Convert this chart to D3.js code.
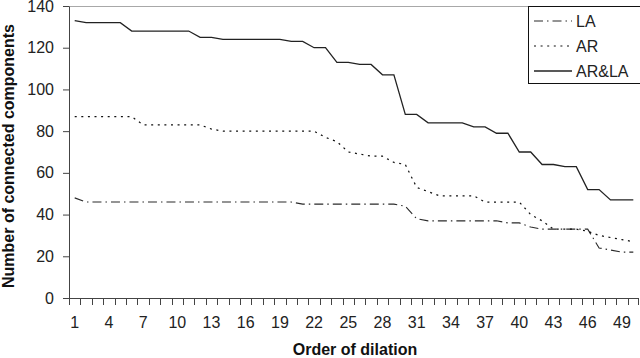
<!DOCTYPE html>
<html>
<head>
<meta charset="utf-8">
<script src="https://cdn.jsdelivr.net/npm/d3@7"></script>
<style>
  body { margin: 0; background: #fff; overflow: hidden; }
  svg { display: block; font-family: "Liberation Sans", Arial, sans-serif; }
  .axis text { font-size: 16px; fill: #222; }
  .axis-title { font-size: 16px; font-weight: 700; fill: #111; }
  .legend-label { font-size: 16px; fill: #222; }
</style>
</head>
<body>
<div id="chart"></div>
<script>
// order of dilation (x categories)
const dilation = [1,2,3,4,5,6,7,8,9,10,11,12,13,14,15,16,17,18,19,20,21,22,23,24,25,
  26,27,28,29,30,31,32,33,34,35,36,37,38,39,40,41,42,43,44,45,46,47,48,49,50];
const xTickLabels = [1,4,7,10,13,16,19,22,25,28,31,34,37,40,43,46,49];
const yTickValues = [0,20,40,60,80,100,120,140];

// number of connected components
const la = [48,46,46,46,46,46,46,46,46,46,46,46,46,46,46,46,46,46,46,46,
  45,45,45,45,45,45,45,45,45,44,38,37,37,37,37,37,37,37,36,36,
  34,33,33,33,33,33,24,23,22,22];
const ar = [87,87,87,87,87,87,83,83,83,83,83,83,81,80,80,80,80,80,80,80,
  80,80,77,75,70,69,68,68,65,64,53,51,49,49,49,49,46,46,46,46,
  40,37,33,33,33,32,30,29,28,27];
const arla = [133,132,132,132,132,128,128,128,128,128,128,125,125,124,124,124,124,124,124,123,
  123,120,120,113,113,112,112,107,107,88,88,84,84,84,84,82,82,79,79,70,
  70,64,64,63,63,52,52,47,47,47];

const seriesNames = ['LA', 'AR', 'AR&LA'];
const seriesValues = [la, ar, arla];

class LineChart {

  constructor(_config) {
    this.config = {
      parentElement: _config.parentElement,
      containerWidth: 640,
      containerHeight: 358,
      margin: { top: 6, right: 1, bottom: 60, left: 69 },
    };
    this.styles = {
      'LA': { color: '#2a2a2a', width: 1.1, dash: '9,4,1.5,4' },
      'AR': { color: '#111', width: 1.2, dash: '2,4.6' },
      'AR&LA': { color: '#222', width: 1.3, dash: null }
    };
    this.initVis();
  }

  initVis() {
    let vis = this;

    vis.width = vis.config.containerWidth - vis.config.margin.left - vis.config.margin.right;
    vis.height = vis.config.containerHeight - vis.config.margin.top - vis.config.margin.bottom;

    // scales
    vis.xScale = d3.scaleBand()
      .domain(dilation)
      .range([0, vis.width])
      .padding(0);

    vis.yScale = d3.scaleLinear()
      .domain([0, 140])
      .range([vis.height, 0]);

    vis.yAxis = d3.axisLeft(vis.yScale)
      .tickValues(yTickValues)
      .tickSize(6)
      .tickSizeOuter(0)
      .tickPadding(9);

    vis.svg = d3.select(vis.config.parentElement).append('svg')
      .attr('width', vis.config.containerWidth)
      .attr('height', vis.config.containerHeight);

    vis.chart = vis.svg.append('g')
      .attr('transform', `translate(${vis.config.margin.left}, ${vis.config.margin.top})`);

    // plot area top border
    vis.chart.append('line')
      .attr('x1', 0)
      .attr('x2', vis.width + 2)
      .attr('y1', 0.5)
      .attr('y2', 0.5)
      .attr('stroke', '#a8a8a8');

    vis.xAxisG = vis.chart.append('g')
      .attr('class', 'axis x-axis')
      .attr('transform', `translate(0,${vis.height})`);

    vis.yAxisG = vis.chart.append('g')
      .attr('class', 'axis y-axis');

    // axis titles
    vis.svg.append('text')
      .attr('class', 'axis-title')
      .attr('x', 355)
      .attr('y', 355)
      .attr('text-anchor', 'middle')
      .text('Order of dilation');

    vis.svg.append('text')
      .attr('class', 'axis-title')
      .attr('transform', 'translate(14,156) rotate(-90)')
      .attr('text-anchor', 'middle')
      .text('Number of connected components');

    vis.renderVis();
  }

  renderVis() {
    let vis = this;
    const half = vis.xScale.bandwidth() / 2;

    // y axis
    vis.yAxisG.call(vis.yAxis);
    vis.yAxisG.selectAll('line, path').attr('stroke', '#444');

    // x axis: ticks between categories, labels every third category
    vis.xAxisG.append('line')
      .attr('x1', 0)
      .attr('x2', vis.width)
      .attr('y1', 0.5)
      .attr('y2', 0.5)
      .attr('stroke', '#444');

    vis.xAxisG.selectAll('.x-tick')
      .data(dilation.concat(['end']))
      .join('line')
        .attr('class', 'x-tick')
        .attr('x1', d => d === 'end' ? vis.width - 0.5 : Math.round(vis.xScale(d)) + 0.5)
        .attr('x2', d => d === 'end' ? vis.width - 0.5 : Math.round(vis.xScale(d)) + 0.5)
        .attr('y1', 0)
        .attr('y2', 7)
        .attr('stroke', '#444');

    vis.xAxisG.selectAll('.x-label')
      .data(xTickLabels)
      .join('text')
        .attr('class', 'x-label')
        .attr('x', d => vis.xScale(d) + half)
        .attr('y', 30)
        .attr('text-anchor', 'middle')
        .text(d => d);

    // data lines
    const line = d3.line()
      .x((d, i) => vis.xScale(dilation[i]) + half)
      .y(d => vis.yScale(d));

    vis.chart.selectAll('.series')
      .data(seriesNames)
      .join('path')
        .attr('class', 'series')
        .attr('d', (d, i) => line(seriesValues[i]))
        .attr('fill', 'none')
        .attr('stroke', d => vis.styles[d].color)
        .attr('stroke-width', d => vis.styles[d].width)
        .attr('stroke-dasharray', d => vis.styles[d].dash);

    // legend
    const legend = vis.svg.append('g')
      .attr('transform', 'translate(528,6)');

    legend.append('rect')
      .attr('x', 0.5)
      .attr('y', 0.5)
      .attr('width', 130)
      .attr('height', 77)
      .attr('fill', '#fff')
      .attr('stroke', '#111');

    const items = legend.selectAll('.legend-item')
      .data(seriesNames)
      .join('g')
        .attr('class', 'legend-item')
        .attr('transform', (d, i) => `translate(0,${15 + i * 25})`);

    items.append('line')
      .attr('x1', 6)
      .attr('x2', 44)
      .attr('y1', 0)
      .attr('y2', 0)
      .attr('stroke', d => vis.styles[d].color)
      .attr('stroke-width', d => vis.styles[d].width)
      .attr('stroke-dasharray', d => vis.styles[d].dash);

    items.append('text')
      .attr('class', 'legend-label')
      .attr('x', 48)
      .attr('dy', '0.35em')
      .text(d => d);
  }
}

new LineChart({ parentElement: '#chart' });
</script>
</body>
</html>
